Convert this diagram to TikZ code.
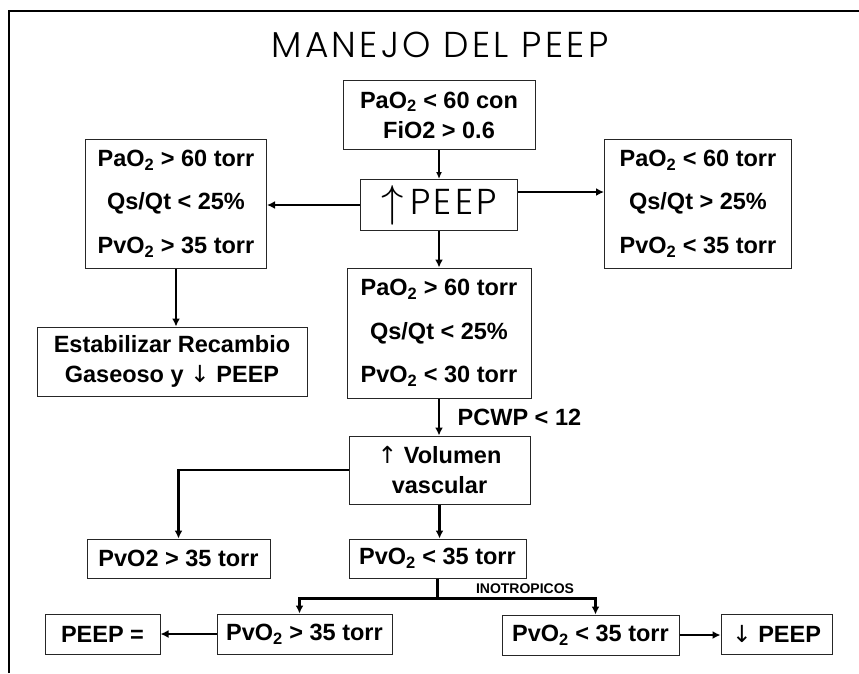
\documentclass[tikz,border=0pt]{standalone}
\usepackage{fontspec}
\setmainfont{Liberation Sans}
\newfontfamily\titulofont[LetterSpace=9]{Poppins Light}
\newfontfamily\flechas{DejaVu Sans}
\usetikzlibrary{arrows.meta,positioning}
\newcommand{\dos}{\textsubscript{2}}
\newcommand{\sube}{{\flechas\mdseries ↑}}
\newcommand{\baja}{{\flechas\mdseries ↓}}
\tikzset{
  caja/.style={draw=black!85, line width=1pt, fill=white, inner sep=0pt, align=center,
    font=\fontsize{23.5}{43.5}\bfseries\selectfont},
  caja2/.style={caja, font=\fontsize{23.5}{30}\bfseries\selectfont},
  caja3/.style={caja, execute at begin node={\rule{0pt}{38pt}}},
  flecha/.style={-{Latex[length=8pt,width=8pt]}, line width=2.8pt},
  flechina/.style={-{Latex[length=7pt,width=6pt]}, line width=1.3pt},
}

\begin{document}
\begin{tikzpicture}[x=1pt,y=-1pt]
\useasboundingbox (0,0) rectangle (859,673);
\draw[line width=2pt] (9,673) -- (9,11) -- (859,11);
\node (titulo) at (440,45) {\titulofont\fontsize{36}{36}\selectfont MANEJO DEL PEEP};
% fila de arriba
\node[caja2, minimum width=192pt, minimum height=69pt] (inicio) at (439,115) {PaO\dos{} < 60 con\\FiO2 > 0.6};
\node[caja, minimum width=157pt, minimum height=51pt] (peep) at (439,205) {\raisebox{-2pt}{\resizebox{!}{31pt}{$\uparrow$}}\hspace{7pt}{\titulofont\mdseries\fontsize{36}{36}\selectfont PEEP}};
\node[caja3, minimum width=181pt, minimum height=129pt] (izq) at (176,203.5) {PaO\dos{} > 60 torr\\Qs/Qt < 25\%\\PvO\dos{} > 35 torr};
\node[caja3, minimum width=187pt, minimum height=129pt] (der) at (698,203.5) {PaO\dos{} < 60 torr\\Qs/Qt > 25\%\\PvO\dos{} < 35 torr};
\node[caja3, minimum width=184pt, minimum height=130pt] (medio) at (439,333) {PaO\dos{} > 60 torr\\Qs/Qt < 25\%\\PvO\dos{} < 30 torr};
\node[caja2, minimum width=270pt, minimum height=69pt] (estab) at (172,361.5) {Estabilizar Recambio\\Gaseoso y \baja{} PEEP};
% volumen
\node[caja2, minimum width=181pt, minimum height=68pt] (volumen) at (439.5,470) {\sube{} Volumen\\vascular};
\node[caja, minimum width=183pt, minimum height=39pt] (pvoa) at (178.5,558.5) {PvO2 > 35 torr};
\node[caja, minimum width=177pt, minimum height=39pt] (pvob) at (437.5,558.5) {PvO\dos{} < 35 torr};
% fila de abajo
\node[caja, minimum width=175pt, minimum height=40pt] (bizq) at (304.5,634) {PvO\dos{} > 35 torr};
\node[caja, minimum width=115pt, minimum height=40pt] (peepig) at (102.5,634) {PEEP =};
\node[caja, minimum width=177pt, minimum height=40pt] (bder) at (590.5,635) {PvO\dos{} < 35 torr};
\node[caja, minimum width=111pt, minimum height=40pt] (bajapeep) at (776.5,634) {\baja{} PEEP};
\node[font=\fontsize{14}{14}\bfseries\selectfont] (inotropicos) at (525,589) {INOTROPICOS};
% flechas
\draw[flechina] (inicio) -- (peep);
\draw[flecha] (peep.west) -- (peep.west -| izq.east);
\draw[flecha] ([yshift=13pt]peep.east) -- ([yshift=13pt]peep.east -| der.west);
\draw[flecha] (peep) -- (medio);
\draw[flecha] (izq.south) -- (izq.south |- estab.north);
\draw[flecha] (medio.south) -- node[right=14pt, font=\fontsize{23.5}{23.5}\bfseries\selectfont] {PCWP < 12} (medio.south |- volumen.north);
\draw[flecha] (volumen.west) -| (pvoa.north);
\draw[flecha] (volumen.south) -- (volumen.south |- pvob.north);
\coordinate (rama) at ([yshift=-20pt]pvob.south);
\draw[line width=2.8pt] (pvob.south) -- (rama);
\draw[flecha] (rama) -| ([xshift=-5pt]bizq.north);
\draw[flecha] (rama) -| ([xshift=5pt]bder.north);
\draw[flecha] (bizq) -- (peepig);
\draw[flecha] (bder.east) -- (bder.east -| bajapeep.west);
\end{tikzpicture}
\end{document}
